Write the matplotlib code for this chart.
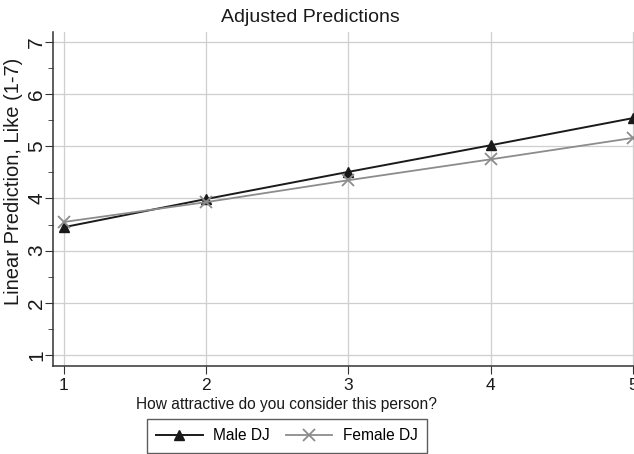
import matplotlib.pyplot as plt
from matplotlib.ticker import MultipleLocator

plt.rcParams['font.family'] = ['Liberation Sans', 'DejaVu Sans']

# adjusted predictions
attract = [1, 2, 3, 4, 5]
male_dj = [3.45, 3.99, 4.51, 5.02, 5.54]
female_dj = [3.55, 3.93, 4.35, 4.75, 5.16]
y_ticks = [1, 2, 3, 4, 5, 6, 7]

fig = plt.figure(figsize=(6.34, 4.54), dpi=100)
ax = fig.add_axes([53 / 634, 1 - 366 / 454, 581 / 634, 334 / 454])

ax.plot(attract, male_dj, color='#1a1a1a', lw=1.4, marker='^', ms=7,
        label='Male DJ', zorder=3)
ax.plot(attract, female_dj, color='#8c8c8c', lw=1.3, marker='x', ms=8,
        mew=1.3, label='Female DJ', zorder=3)

ax.set_xlim(0.923, 5.007)
ax.set_ylim(0.79, 7.19)
ax.set_xticks(attract)
ax.set_yticks(y_ticks)
ax.yaxis.set_minor_locator(MultipleLocator(0.5))
ax.grid(True, color='#cfcfcf', lw=0.9)
ax.set_axisbelow(True)

for s in ['top', 'right']:
    ax.spines[s].set_visible(False)
for s in ['left', 'bottom']:
    ax.spines[s].set_color('#333333')
    ax.spines[s].set_linewidth(1.1)

ax.tick_params(axis='both', color='#333333', length=6, labelcolor='#1a1a1a')
ax.tick_params(axis='x', labelsize=12.5, pad=3)
ax.tick_params(axis='y', labelsize=15, labelrotation=90, pad=-1)
ax.tick_params(axis='y', which='minor', length=3.5, color='#333333')
for lbl in ax.get_yticklabels():
    lbl.set_va('center')

fig.text(14 / 634, 1 - 181 / 454, 'Linear Prediction, Like (1-7)',
         rotation=90, ha='center', va='center', fontsize=14.5, color='#1a1a1a')
fig.text(287 / 634, 1 - 404 / 454, 'How attractive do you consider this person?',
         ha='center', va='center', fontsize=11.2, color='#1a1a1a')
fig.text(310 / 634, 1 - 17 / 454, 'Adjusted Predictions',
         ha='center', va='center', fontsize=14, color='#1a1a1a')

leg = fig.legend(loc='center', bbox_to_anchor=(287 / 634, 1 - 436 / 454), ncol=2,
                 fontsize=11.2, frameon=True, fancybox=False,
                 edgecolor='#333333', handlelength=3.0, handletextpad=0.7,
                 columnspacing=1.0, borderpad=0.6)
leg.get_frame().set_linewidth(1.0)

fig.savefig('out.png', dpi=100)
